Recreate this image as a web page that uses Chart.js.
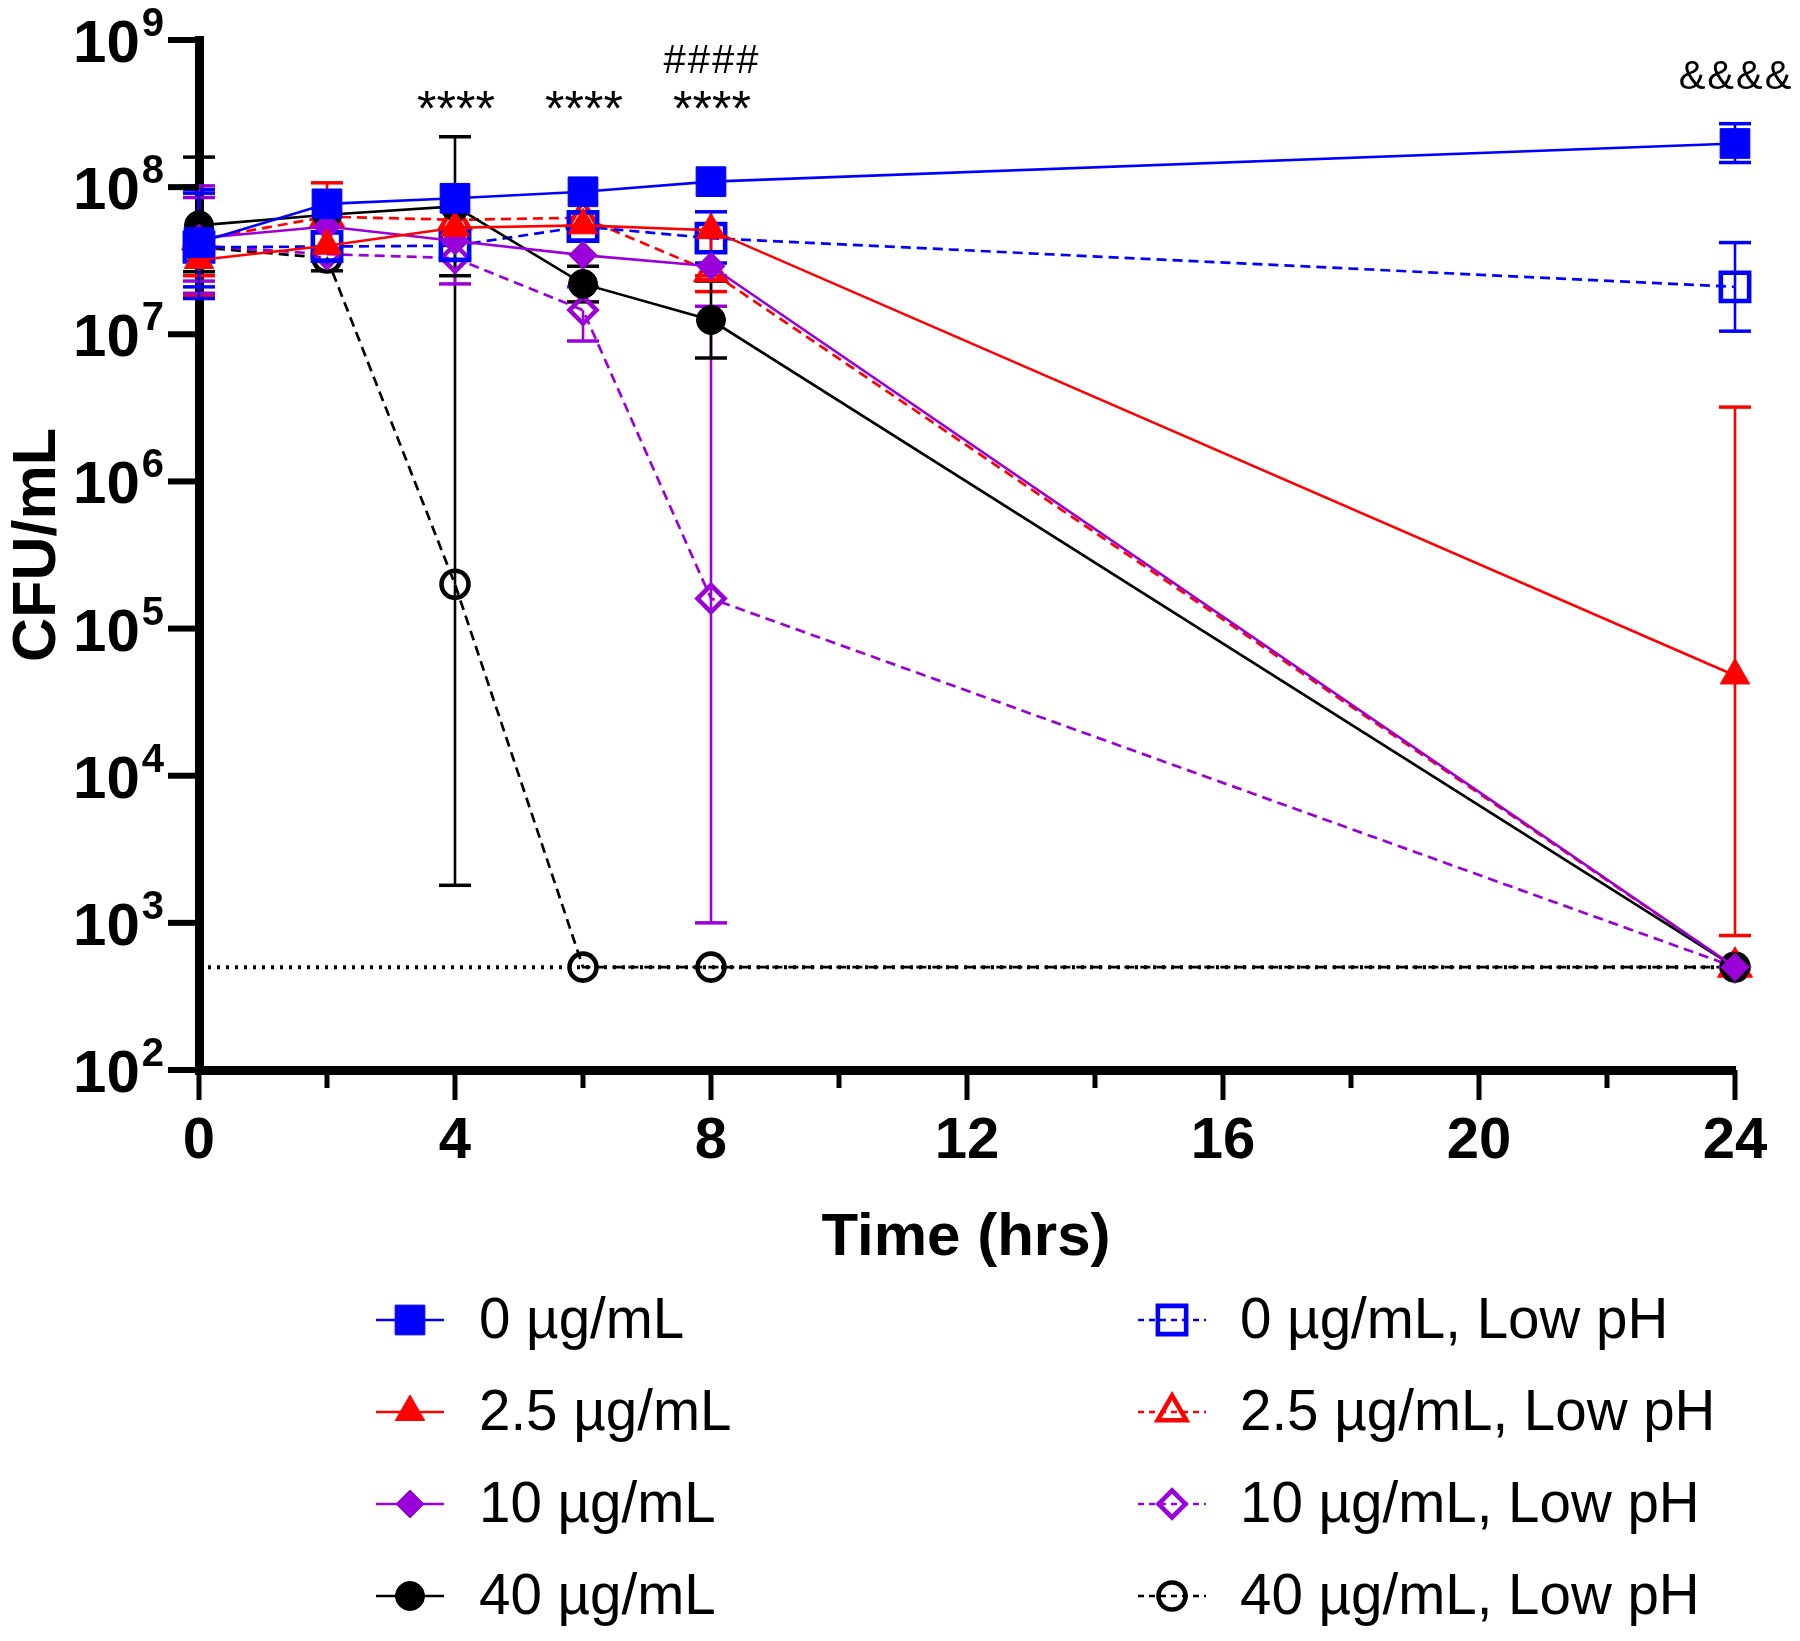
<!DOCTYPE html>
<html>
<head>
<meta charset="utf-8">
<script src="https://cdn.jsdelivr.net/npm/chart.js@4.4.1/dist/chart.umd.min.js"></script>
<style>
  html, body { margin: 0; padding: 0; background: #fff; }
  #c { display: block; }
</style>
</head>
<body>
<canvas id="c" width="1800" height="1641"></canvas>
<script>
// sampling times (hrs)
const hours = [0, 2, 4, 6, 8, 24];

// mean CFU/mL per group
const cfu0    = [4.2e7, 7.7e7, 8.4e7, 9.3e7, 1.09e8, 1.98e8];
const cfu2_5  = [3.2e7, 4.0e7, 5.3e7, 5.5e7, 5.1e7, 4.8e4];
const cfu10   = [4.5e7, 5.4e7, 4.3e7, 3.45e7, 2.9e7, 500];
const cfu40   = [5.5e7, 6.5e7, 7.4e7, 2.2e7, 1.25e7, 500];
const cfu0L   = [3.9e7, 3.95e7, 4.0e7, 5.4e7, 4.5e7, 2.1e7];
const cfu2_5L = [4.4e7, 6.3e7, 6.0e7, 6.2e7, 2.66e7, 500];
const cfu10L  = [4.0e7, 3.5e7, 3.3e7, 1.46e7, 1.6e5, 500];
const cfu40L  = [3.9e7, 3.3e7, 2.0e5, 500, 500, 500];

// error bar ends (null = not visible)
const hi0    = [9.1e7, null, null, null, null, 2.7e8];
const lo0    = [1.75e7, null, null, null, null, 1.47e8];
const hi2_5  = [null, null, null, null, null, 3.2e6];
const lo2_5  = [1.8e7, null, null, null, 2.5e7, 8.2e2];
const hi10   = [1.02e8, null, null, null, null, null];
const lo10   = [2.3e7, null, null, 2.1e7, null, null];
const hi40   = [1.6e8, null, null, 2.9e7, 2.3e7, null];
const lo40   = [2.66e7, null, 2.5e7, 1.66e7, 6.9e6, null];
const hi0L   = [9.6e7, null, null, null, 6.8e7, 4.2e7];
const lo0L   = [2.1e7, null, null, null, 3.05e7, 1.05e7];
const hi2_5L = [null, 1.07e8, null, null, null, null];
const lo2_5L = [2.5e7, null, null, null, 1.95e7, null];
const hi10L  = [8.5e7, null, null, null, 1.55e7, null];
const lo10L  = [1.9e7, null, 2.2e7, 9.0e6, 1.0e3, null];
const hi40L  = [null, null, 2.2e8, null, null, null];
const lo40L  = [null, 2.7e7, 1.8e3, null, null, null];

const detectionLimit = 500;

const groupNames = ['0 µg/mL', '2.5 µg/mL', '10 µg/mL', '40 µg/mL',
  '0 µg/mL, Low pH', '2.5 µg/mL, Low pH', '10 µg/mL, Low pH', '40 µg/mL, Low pH'];

// axis ticks
const xMajorTicks = [0, 4, 8, 12, 16, 20, 24];
const xMinorTicks = [2, 6, 10, 14, 18, 22];
const yExponents = [2, 3, 4, 5, 6, 7, 8, 9];

// significance marks
const sigHours = [4, 6, 8, 8, 24];
const sigText  = ['****', '****', '****', '####', '&&&&'];

const FONT = '"Liberation Sans", Arial, Helvetica, sans-serif';
const BLUE = '#0000ff', RED = '#ff0000', PURPLE = '#9a00d8', BLACK = '#000000';

const toXY = (vals) => vals.map((v, i) => ({ x: hours[i], y: v }));

function series(i, vals, hi, lo, color, shape, radius, hollow) {
  return {
    label: groupNames[i],
    data: toXY(vals),
    errHi: hi, errLo: lo,
    borderColor: color,
    backgroundColor: color,
    borderWidth: hollow ? 2.7 : 2.6,
    borderDash: hollow ? [10, 6] : [],
    pointStyle: shape,
    pointRadius: radius,
    pointBackgroundColor: hollow ? 'rgba(0,0,0,0)' : color,
    pointBorderColor: color,
    pointBorderWidth: hollow ? 4.6 : 1,
    tension: 0,
    clip: false,
    hollow
  };
}

const datasets = [
  series(0, cfu0, hi0, lo0, BLUE, 'rect', 21, false),
  series(1, cfu2_5, hi2_5, lo2_5, RED, 'triangle', 17, false),
  series(2, cfu10, hi10, lo10, PURPLE, 'rectRot', 14, false),
  series(3, cfu40, hi40, lo40, BLACK, 'circle', 14.5, false),
  series(4, cfu0L, hi0L, lo0L, BLUE, 'rect', 20, true),
  series(5, cfu2_5L, hi2_5L, lo2_5L, RED, 'triangle', 16.5, true),
  series(6, cfu10L, hi10L, lo10L, PURPLE, 'rectRot', 13.5, true),
  series(7, cfu40L, hi40L, lo40L, BLACK, 'circle', 13.5, true),
  {
    label: 'LOD',
    data: [{ x: 0, y: detectionLimit }, { x: 24, y: detectionLimit }],
    borderColor: BLACK, borderWidth: 4, borderDash: [3, 6],
    pointRadius: 0, clip: false, isLimit: true
  }
];

function drawMarker(ctx, shape, x, y, r, fill, stroke, lw) {
  ctx.beginPath();
  if (shape === 'rect') {
    const s = Math.SQRT1_2 * r;
    ctx.rect(x - s, y - s, 2 * s, 2 * s);
  } else if (shape === 'triangle') {
    for (let k = 0; k < 3; k++) {
      const a = k * 2 * Math.PI / 3;
      const px = x + Math.sin(a) * r, py = y - Math.cos(a) * r;
      k ? ctx.lineTo(px, py) : ctx.moveTo(px, py);
    }
    ctx.closePath();
  } else if (shape === 'rectRot') {
    ctx.moveTo(x, y - r); ctx.lineTo(x + r, y); ctx.lineTo(x, y + r); ctx.lineTo(x - r, y);
    ctx.closePath();
  } else {
    ctx.arc(x, y, r, 0, Math.PI * 2);
  }
  ctx.fillStyle = fill; ctx.fill();
  ctx.setLineDash([]);
  ctx.strokeStyle = stroke; ctx.lineWidth = lw; ctx.stroke();
}

function seg(ctx, x1, y1, x2, y2) {
  ctx.beginPath(); ctx.moveTo(x1, y1); ctx.lineTo(x2, y2); ctx.stroke();
}

// error bars behind the symbols
const errorBars = {
  id: 'errorBars',
  beforeDatasetsDraw(chart) {
    const { ctx, scales: { x, y } } = chart;
    ctx.save();
    ctx.setLineDash([]);
    for (let d = chart.data.datasets.length - 1; d >= 0; d--) {
      const ds = chart.data.datasets[d];
      if (!ds.errHi) continue;
      ctx.strokeStyle = ds.borderColor;
      ds.data.forEach((p, i) => {
        const px = x.getPixelForValue(p.x), py = y.getPixelForValue(p.y);
        [ds.errHi[i], ds.errLo[i]].forEach(v => {
          if (v == null) return;
          const ey = y.getPixelForValue(v);
          ctx.lineWidth = 2.6; seg(ctx, px, py, px, ey);
          ctx.lineWidth = 3.5; seg(ctx, px - 16, ey, px + 16, ey);
        });
      });
    }
    ctx.restore();
  }
};

// ticks, tick labels, titles, marks, legend
const decorations = {
  id: 'decorations',
  afterDraw(chart) {
    const { ctx, scales: { x, y } } = chart;
    const area = chart.chartArea;
    ctx.save();
    ctx.strokeStyle = BLACK; ctx.fillStyle = BLACK;
    ctx.setLineDash([]);

    // x ticks
    ctx.lineWidth = 5;
    xMinorTicks.forEach(v => { const px = x.getPixelForValue(v); seg(ctx, px, area.bottom, px, area.bottom + 18); });
    ctx.font = 'bold 58px ' + FONT;
    ctx.textAlign = 'center'; ctx.textBaseline = 'middle';
    xMajorTicks.forEach(v => {
      const px = x.getPixelForValue(v);
      seg(ctx, px, area.bottom, px, area.bottom + 30);
      ctx.fillText(String(v), px, area.bottom + 72);
    });

    // y ticks 10^n
    yExponents.forEach(n => {
      const py = y.getPixelForValue(Math.pow(10, n));
      ctx.lineWidth = 6;
      seg(ctx, area.left - 31, py, area.left, py);
      ctx.font = 'bold 40px ' + FONT;
      ctx.textAlign = 'right'; ctx.textBaseline = 'alphabetic';
      ctx.fillText(String(n), area.left - 35, py - 4);
      const ew = ctx.measureText(String(n)).width;
      ctx.font = 'bold 60px ' + FONT;
      ctx.fillText('10', area.left - 37 - ew, py + 22);
    });

    // axis titles
    ctx.font = 'bold 60px ' + FONT;
    ctx.textAlign = 'center'; ctx.textBaseline = 'middle';
    ctx.fillText('Time (hrs)', (area.left + area.right) / 2 - 1, 1238);
    ctx.save();
    ctx.translate(38, (area.top + area.bottom) / 2 - 10);
    ctx.rotate(-Math.PI / 2);
    ctx.font = 'bold 61px ' + FONT;
    ctx.fillText('CFU/mL', 0, 0);
    ctx.restore();

    // significance marks
    ctx.textAlign = 'center'; ctx.textBaseline = 'middle';
    sigHours.forEach((h, i) => {
      const px = x.getPixelForValue(h);
      const t = sigText[i];
      let py = 112;
      ctx.font = '50px ' + FONT;
      ctx.letterSpacing = '0px';
      if (t === '####') { py = 62; ctx.font = '40px ' + FONT; ctx.letterSpacing = '2px'; }
      if (t === '&&&&') { py = 78; ctx.font = '40px ' + FONT; ctx.letterSpacing = '2px'; }
      ctx.fillText(t, px + 1, py);
    });
    ctx.letterSpacing = '0px';

    // legend, two columns
    const colX = [410, 1172], colText = [479, 1240];
    const rowY = [1320, 1412, 1504, 1596];
    ctx.font = '56.5px ' + FONT;
    ctx.textAlign = 'left'; ctx.textBaseline = 'middle';
    chart.data.datasets.forEach((ds, i) => {
      if (ds.isLimit) return;
      const col = ds.hollow ? 1 : 0, row = i % 4;
      const cx = colX[col], cy = rowY[row];
      ctx.strokeStyle = ds.borderColor; ctx.lineWidth = ds.borderWidth;
      ctx.setLineDash(ds.hollow ? [6, 5] : []);
      seg(ctx, cx - 34, cy, cx + 34, cy);
      drawMarker(ctx, ds.pointStyle, cx, cy, ds.pointRadius, ds.pointBackgroundColor, ds.pointBorderColor, ds.pointBorderWidth);
      ctx.fillStyle = BLACK;
      ctx.fillText(ds.label, colText[col], cy + 2);
    });
    ctx.restore();
  }
};

new Chart(document.getElementById('c'), {
  type: 'line',
  data: { datasets },
  options: {
    responsive: false,
    animation: false,
    devicePixelRatio: 1,
    layout: { padding: { left: 199, right: 65, top: 40, bottom: 571 } },
    plugins: { legend: { display: false }, tooltip: { enabled: false } },
    scales: {
      x: {
        type: 'linear', min: 0, max: 24,
        ticks: { display: false },
        grid: { drawOnChartArea: false, drawTicks: false },
        border: { display: true, color: BLACK, width: 9 }
      },
      y: {
        type: 'logarithmic', min: 100, max: 1e9,
        ticks: { display: false },
        grid: { drawOnChartArea: false, drawTicks: false },
        border: { display: true, color: BLACK, width: 9 }
      }
    }
  },
  plugins: [errorBars, decorations]
});
</script>
</body>
</html>
